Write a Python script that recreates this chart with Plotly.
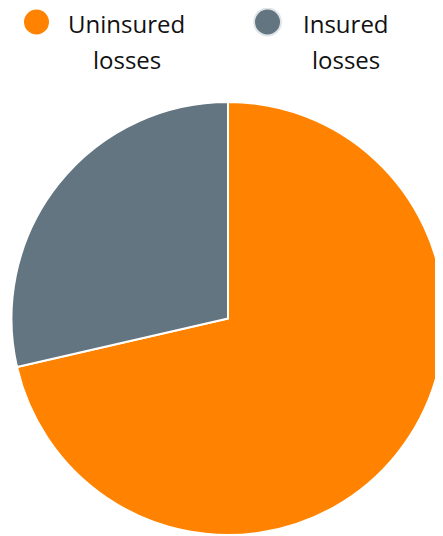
import plotly.graph_objects as go

# Data
labels = ["Uninsured losses", "Insured losses"]
values = [71.4, 28.6]
colors = ["#FF8300", "#627580"]
legend_lines = [["Uninsured", "losses"], ["Insured", "losses"]]

W, H = 443, 536
OFF = 8  # page body margin offset


def px_x(x):
    return (x - OFF) / W


def px_y(y):
    return 1 - (y - OFF) / H


fig = go.Figure(go.Pie(
    labels=labels,
    values=values,
    sort=False,
    direction="clockwise",
    rotation=0,
    marker=dict(colors=colors, line=dict(color="white", width=2)),
    textinfo="none",
    hoverinfo="label+percent",
    showlegend=False,
    domain=dict(x=[px_x(11.5), px_x(444.5)], y=[px_y(535), px_y(102)]),
))

# Legend built from labels/colors (circle markers, centered two-line text)
marker_cx = [36.5, 267.5]
text_cx = [126.5, 346]
r = 13.5
shapes = []
annotations = []
for i, (lines, col) in enumerate(zip(legend_lines, colors)):
    cx, cy = marker_cx[i], 22
    shapes.append(dict(
        type="circle", xref="paper", yref="paper",
        x0=px_x(cx - r), x1=px_x(cx + r),
        y0=px_y(cy + r), y1=px_y(cy - r),
        fillcolor=col,
        line=dict(color="#ffffff" if i == 0 else "#dfe5e8", width=2),
    ))
    for j, (t, ty) in enumerate(zip(lines, [24, 60])):
        annotations.append(dict(
            text=t, x=px_x(text_cx[i]), y=px_y(ty),
            xref="paper", yref="paper", xanchor="center", yanchor="middle",
            showarrow=False, borderpad=0,
            font=dict(family="Open Sans", size=24, color="#111111"),
        ))

fig.update_layout(
    width=W, height=H,
    margin=dict(l=0, r=0, t=0, b=0),
    paper_bgcolor="white",
    plot_bgcolor="white",
    shapes=shapes,
    annotations=annotations,
)

fig.write_html("out.html")
